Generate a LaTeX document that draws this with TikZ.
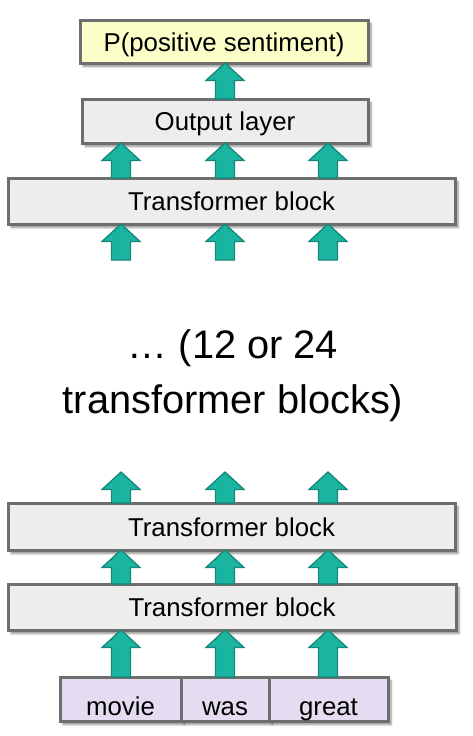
\documentclass[tikz,border=0pt]{standalone}
\usepackage{fontspec}
\setmainfont{Liberation Sans}
\usetikzlibrary{calc,shadows.blur}
\definecolor{boxfill}{HTML}{EDEDED}
\definecolor{boxline}{HTML}{6E6E6E}
\definecolor{yellowfill}{HTML}{F9FFC6}
\definecolor{wordfill}{HTML}{E4DDF2}
\definecolor{tealfill}{HTML}{19B5A1}
\definecolor{tealline}{HTML}{16867A}
\tikzset{
  boxbase/.style={draw=boxline, line width=3pt, rectangle, anchor=north west,
    inner sep=0pt, outer sep=0pt, text height=19pt, text depth=0pt,
    font=\fontsize{25.8}{30}\selectfont,
    blur shadow={shadow xshift=3pt, shadow yshift=-3.5pt, shadow blur steps=6, shadow opacity=45}},
  graybox/.style={boxbase, fill=boxfill},
  yellowbox/.style={boxbase, fill=yellowfill},
  wordbox/.style={boxbase, fill=wordfill, text height=32pt, minimum height=44pt},
  fatarrow/.style={fill=tealfill, draw=tealline, line width=1.3pt, line join=miter},
  midtext/.style={align=center, font=\fontsize{39.8}{55}\selectfont}
}
\newcommand\uparr[2]{%
  \draw[fatarrow] let \p1=#1, \p2=#2 in
    (\x1-9.5pt,\y1) -- (\x1-9.5pt,\y2-17.5pt) -- (\x1-19pt,\y2-17.5pt) -- (\x1,\y2)
    -- (\x1+19pt,\y2-17.5pt) -- (\x1+9.5pt,\y2-17.5pt) -- (\x1+9.5pt,\y1) -- cycle;}
\begin{document}
\begin{tikzpicture}[x=1pt,y=-1pt]
\useasboundingbox (0,0) rectangle (472,736);
\coordinate (c1) at (121,0);
\coordinate (c2) at (225,0);
\coordinate (c3) at (328,0);
\coordinate (inlow) at (0,260);
\coordinate (outhigh) at (0,472);

\node[yellowbox, minimum width=288pt, minimum height=43pt] (prob) at (80,20) {P(positive sentiment)};
\node[graybox, minimum width=286pt, minimum height=44pt] (out) at (82,99) {Output layer};
\node[graybox, minimum width=447pt, minimum height=46pt] (tb1) at (8,178) {Transformer block};
\node[graybox, minimum width=447pt, minimum height=47pt] (tb2) at (8,503) {Transformer block};
\node[graybox, minimum width=448pt, minimum height=46pt] (tb3) at (8,584) {Transformer block};
\node[wordbox, minimum width=121pt] (w1) at (60,677) {movie\hspace{22pt}};
\node[wordbox, minimum width=88pt] (w2) at (181,677) {was\hspace{11pt}};
\node[wordbox, minimum width=119pt] (w3) at (269,677) {great\hspace{4pt}};

\node[midtext] (mid) at (233,376) {… (12 or 24\\transformer blocks)};

\uparr{(c2 |- out.north)}{(c2 |- prob.south)}
\foreach \c in {c1,c2,c3}{
  \uparr{(\c |- tb1.north)}{(\c |- out.south)}
  \uparr{(\c |- inlow)}{(\c |- tb1.south)}
  \uparr{(\c |- tb2.north)}{(\c |- outhigh)}
  \uparr{(\c |- tb3.north)}{(\c |- tb2.south)}
}
\uparr{(c1 |- w1.north)}{(c1 |- tb3.south)}
\uparr{(c2 |- w2.north)}{(c2 |- tb3.south)}
\uparr{(c3 |- w3.north)}{(c3 |- tb3.south)}
\end{tikzpicture}
\end{document}
